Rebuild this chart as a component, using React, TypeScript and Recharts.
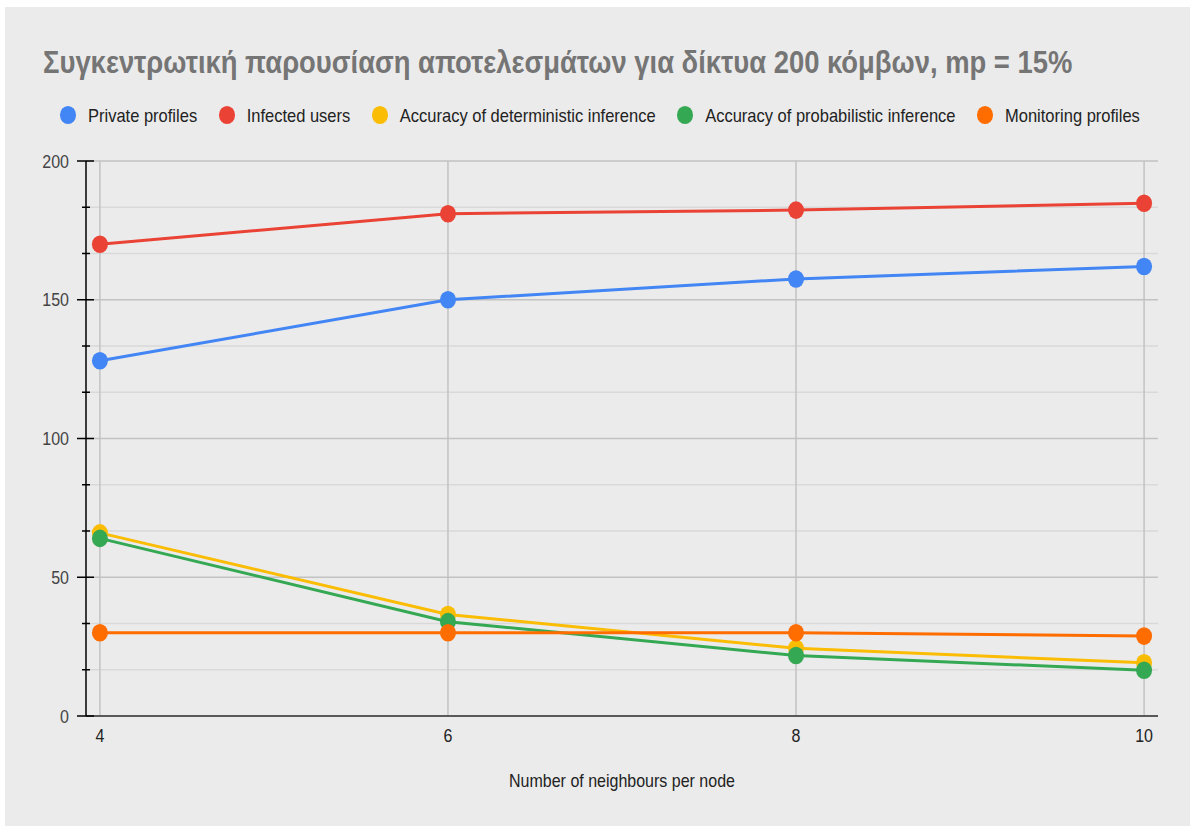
import React from 'react';
import { LineChart, Line, XAxis, YAxis, CartesianGrid } from 'recharts';

const TITLE = 'Συγκεντρωτική παρουσίαση αποτελεσμάτων για δίκτυα 200 κόμβων, mp = 15%';
const X_TITLE = 'Number of neighbours per node';

const neighbours = [4, 6, 8, 10];
const privateProfiles = [128, 150, 157.5, 162];
const infectedUsers = [170, 181, 182.3, 184.8];
const deterministicAcc = [66, 36.6, 24.4, 19.2];
const probabilisticAcc = [64, 34, 21.8, 16.5];
const monitoringProfiles = [30, 30, 30, 28.8];

const xTicks = [4, 6, 8, 10];
const yMajorTicks = [0, 50, 100, 150, 200];
const yMinorTicks = [16.67, 33.33, 66.67, 83.33, 116.67, 133.33, 166.67, 183.33];

const seriesNames = [
  'Private profiles',
  'Infected users',
  'Accuracy of deterministic inference',
  'Accuracy of probabilistic inference',
  'Monitoring profiles',
];
const seriesKeys = ['priv', 'inf', 'det', 'prob', 'mon'];
const seriesValues = [privateProfiles, infectedUsers, deterministicAcc, probabilisticAcc, monitoringProfiles];
const seriesColors = ['#4285F4', '#EA4335', '#FBBC04', '#34A853', '#FF6D01'];

const data = neighbours.map((n, i) => {
  const row: Record<string, number> = { n };
  seriesKeys.forEach((k, s) => {
    row[k] = seriesValues[s][i];
  });
  return row;
});

const allYTicks = [...yMajorTicks, ...yMinorTicks].sort((a, b) => a - b);

const FONT = "'Liberation Sans', Arial, sans-serif";
const SY = 1.16;

const YTick = (props: any) => {
  const { x, y, payload } = props;
  const isMajor = yMajorTicks.includes(payload.value);
  if (isMajor) {
    return (
      <g>
        <line x1={x - 9} x2={x + 8} y1={y} y2={y} stroke="#000" strokeWidth={1.5} />
        <g transform={`translate(${x - 17},${y}) scale(1,${SY})`}>
          <text x={0} y={0} dy="0.35em" textAnchor="end" fontSize={16} fill="#444" fontFamily={FONT}>
            {payload.value}
          </text>
        </g>
      </g>
    );
  }
  return <line x1={x - 4} x2={x + 4} y1={y} y2={y} stroke="#000" strokeWidth={1.5} />;
};

const XTick = (props: any) => {
  const { x, y, payload } = props;
  return (
    <g transform={`translate(${x},${y}) scale(1,${SY})`}>
      <text x={0} y={0} dy="0.71em" textAnchor="middle" fontSize={16} fill="#222" fontFamily={FONT}>
        {payload.value}
      </text>
    </g>
  );
};

const Dot = (props: any) => {
  const { cx, cy, stroke, index } = props;
  if (cx == null || cy == null) return <g key={index} />;
  return <ellipse key={index} cx={cx} cy={cy} rx={8} ry={8.8} fill={stroke} />;
};

export default function App() {
  return (
    <div style={{ position: 'absolute', left: 5, top: 7, width: 1185, height: 819, background: '#ebebeb', fontFamily: FONT }}>
      <div
        style={{
          position: 'absolute',
          left: 38,
          top: 39,
          fontSize: 27.4,
          lineHeight: '27.4px',
          fontWeight: 'bold',
          color: '#757575',
          whiteSpace: 'nowrap',
          transform: 'scaleY(1.17)',
          transformOrigin: 'left top',
        }}
      >
        {TITLE}
      </div>
      <div style={{ position: 'absolute', left: 55, top: 99, height: 18, display: 'flex', alignItems: 'center', whiteSpace: 'nowrap' }}>
        {seriesNames.map((name, i) => (
          <div key={name} style={{ display: 'flex', alignItems: 'center', marginRight: 21.5 }}>
            <div style={{ width: 16, height: 17.6, borderRadius: '50%', background: seriesColors[i], marginRight: 12 }} />
            <span
              style={{
                fontSize: 16.5,
                color: '#222',
                lineHeight: '16.5px',
                display: 'inline-block',
                transform: `scaleY(${SY})`,
              }}
            >
              {name}
            </span>
          </div>
        ))}
      </div>
      <div
        style={{
          position: 'absolute',
          left: 81,
          width: 1072,
          top: 765,
          textAlign: 'center',
          fontSize: 16,
          lineHeight: '16px',
          color: '#222',
          transform: `scaleY(${SY})`,
          transformOrigin: 'center top',
        }}
      >
        {X_TITLE}
      </div>
      <LineChart
        width={1185}
        height={819}
        data={data}
        margin={{ top: 154, right: 32, bottom: 80, left: 0 }}
        style={{ position: 'absolute', left: 0, top: 0 }}
      >
        <CartesianGrid horizontal={true} vertical={false} horizontalValues={yMinorTicks} stroke="#d9d9d9" strokeWidth={1.5} />
        <CartesianGrid horizontal={true} vertical={true} horizontalValues={yMajorTicks} verticalValues={xTicks} stroke="#c2c2c2" strokeWidth={1.5} />
        <XAxis
          dataKey="n"
          type="number"
          domain={[3.92, 10.08]}
          ticks={xTicks}
          allowDataOverflow
          tickLine={false}
          tickSize={0}
          tickMargin={13}
          height={30}
          axisLine={{ stroke: '#333', strokeWidth: 1.5 }}
          tick={<XTick />}
        />
        <YAxis
          type="number"
          domain={[0, 200]}
          ticks={allYTicks}
          interval={0}
          width={81}
          tickLine={false}
          tickSize={0}
          tickMargin={0}
          axisLine={{ stroke: '#000', strokeWidth: 1.5 }}
          tick={<YTick />}
        />
        {seriesKeys.map((k, i) => (
          <Line
            key={k}
            dataKey={k}
            name={seriesNames[i]}
            type="linear"
            stroke={seriesColors[i]}
            strokeWidth={3}
            dot={<Dot />}
            activeDot={false}
            isAnimationActive={false}
          />
        ))}
      </LineChart>
    </div>
  );
}
